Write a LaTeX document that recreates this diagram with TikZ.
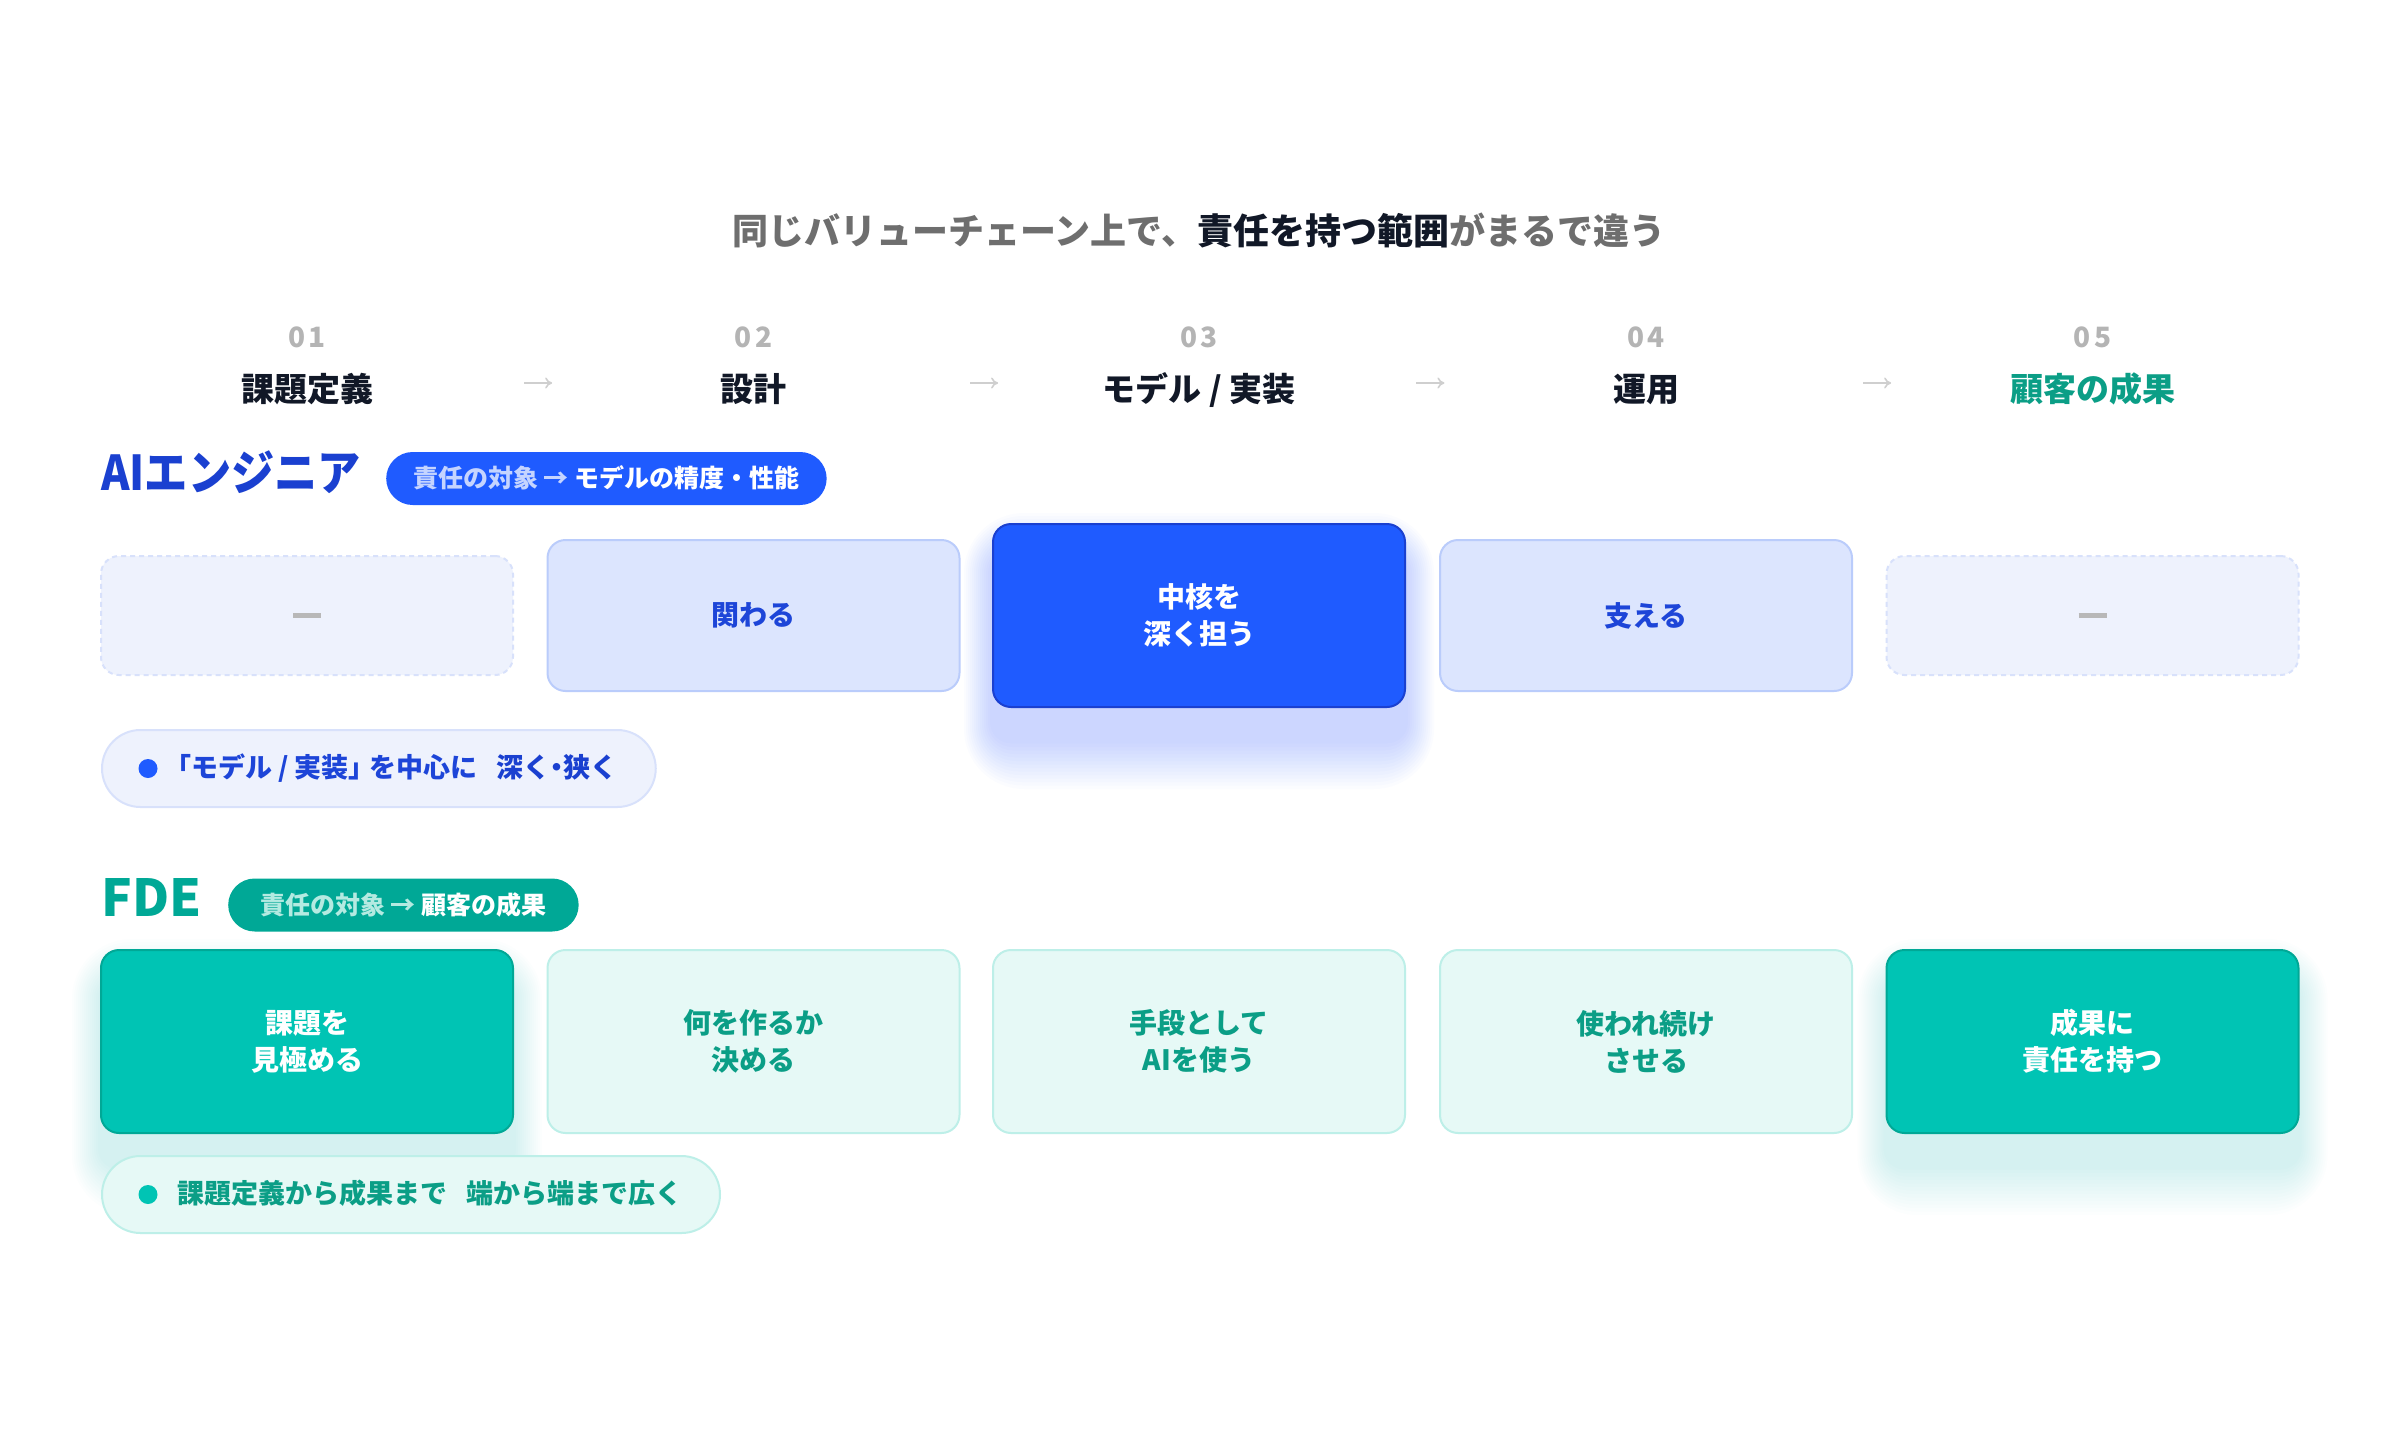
\documentclass[tikz,border=0pt]{standalone}
\usepackage{fontspec}
\setmainfont{Noto Sans CJK JP}
\usetikzlibrary{positioning,calc,arrows.meta,backgrounds}

\definecolor{titlegray}{HTML}{6E6E6E}
\definecolor{ink}{HTML}{111827}
\definecolor{numgray}{HTML}{B4B4B4}
\definecolor{arrowgray}{HTML}{CFCFCF}
\definecolor{dashgray}{HTML}{B8B8B8}
\definecolor{aiblue}{HTML}{1F5BFF}
\definecolor{aidark}{HTML}{1A40D0}
\definecolor{aitext}{HTML}{1D45D8}
\definecolor{aipale}{HTML}{EEF2FD}
\definecolor{aipaleline}{HTML}{D8E1FB}
\definecolor{ailight}{HTML}{DCE5FE}
\definecolor{ailightline}{HTML}{BACCFB}
\definecolor{aibadgesoft}{HTML}{C5D4FF}
\definecolor{fdeteal}{HTML}{00C4B4}
\definecolor{fdedark}{HTML}{00A896}
\definecolor{fdetext}{HTML}{0B9E86}
\definecolor{fdelight}{HTML}{E6F9F6}
\definecolor{fdelightline}{HTML}{BDEFE8}
\definecolor{fdebadgesoft}{HTML}{B4EAE1}

\tikzset{
  headline/.style={font=\bfseries\fontsize{36pt}{40pt}\selectfont, text=titlegray},
  stepnum/.style={text=numgray, inner sep=0pt, text height=21pt, text depth=0pt, font=\bfseries\fontsize{28pt}{30pt}\selectfont},
  stepname/.style={text=ink, inner sep=0pt, text height=29pt, text depth=4pt, font=\bfseries\fontsize{33pt}{38pt}\selectfont},
  flowarrow/.style={draw=arrowgray, line width=1.6pt, -{To[length=7pt, width=11pt]}},
  rolelabel/.style={anchor=west, inner sep=0pt, text height=35pt, text depth=0pt, font=\bfseries\fontsize{48pt}{52pt}\selectfont},
  rolebadge/.style={anchor=west, rounded corners=26.5pt, minimum height=53pt, inner xsep=27pt, inner ysep=0pt, text height=21pt, text depth=3pt, text=white, font=\bfseries\fontsize{25pt}{28pt}\selectfont},
  cell/.style={minimum width=412pt, rounded corners=18pt, line width=2pt, inner sep=0pt, align=center, font=\bfseries\fontsize{28pt}{37pt}\selectfont},
  aiempty/.style={cell, minimum height=119pt, fill=aipale, draw=aipaleline, dash pattern=on 5pt off 4pt, text=dashgray},
  aisoft/.style={cell, minimum height=151pt, fill=ailight, draw=ailightline, text=aitext},
  aistrong/.style={cell, minimum height=183pt, fill=aiblue, draw=aidark, text=white},
  fdesoft/.style={cell, minimum height=183pt, fill=fdelight, draw=fdelightline, text=fdetext},
  fdestrong/.style={cell, minimum height=183pt, fill=fdeteal, draw=fdedark, text=white},
  notepill/.style={anchor=west, rounded corners=38.5pt, minimum height=77pt, line width=2pt, inner xsep=38pt, inner ysep=0pt, text height=21pt, text depth=3pt, font=\bfseries\fontsize{27pt}{30pt}\selectfont},
}
\newcommand{\emptymark}{\rule{28pt}{5pt}}

\begin{document}
\begin{tikzpicture}[x=1pt,y=-1pt]
\useasboundingbox (0,0) rectangle (2400,1440);

% title
\node[headline] (title) at (1199,230) {同じバリューチェーン上で、\textcolor{ink}{責任を持つ範囲}がまるで違う};

% value chain
\node[stepnum] (n1) at (307,337) {0\kern3pt1};
\node[stepnum] (n2) at (753.5,337) {0\kern3pt2};
\node[stepnum] (n3) at (1199,337) {0\kern3pt3};
\node[stepnum] (n4) at (1646,337) {0\kern3pt4};
\node[stepnum] (n5) at (2092.5,337) {0\kern3pt5};

\node[stepname] (s1) at (307,389) {課題定義};
\node[stepname] (s2) at (753.5,389) {設計};
\node[stepname] (s3) at (1199,389) {モデル / 実装};
\node[stepname] (s4) at (1646,389) {運用};
\node[stepname, text=fdetext] (s5) at (2092.5,389) {顧客の成果};

\foreach \a/\b in {s1/s2, s2/s3, s3/s4, s4/s5}
  \draw[flowarrow] ($(\a)!0.486!(\b)+(0,-6)$) -- ($(\a)!0.549!(\b)+(0,-6)$);

% AI engineer
\node[rolelabel, text=aidark] (ailabel) at (101,472.5) {\addfontfeatures{FakeStretch=0.9}AIエンジニア};
\node[rolebadge, fill=aiblue] (aibadge) at (386,478.5) {\textcolor{aibadgesoft}{責任の対象 → }モデルの精度・性能};

\node[aiempty] (ai1) at (307,615.5) {\emptymark};
\node[aisoft] (ai2) at (753.5,615.5) {関わる};
\node[aistrong] (ai3) at (1199,615.5) {中核を\\深く担う};
\node[aisoft] (ai4) at (1646,615.5) {支える};
\node[aiempty] (ai5) at (2092.5,615.5) {\emptymark};

\node[notepill, fill=aipale, draw=aipaleline] (ainote) at (101,768.5)
  {\hspace*{24pt}\textcolor{aitext}{「モデル / 実装」\kern-6ptを中心に}\hspace{19pt}\textcolor{aidark}{深く\kern-7pt・\kern-7pt狭く}};
\fill[aiblue] ([xshift=47pt]ainote.west) circle (9.5);

% FDE
\node[rolelabel, text=fdedark, font=\bfseries\fontsize{51pt}{54pt}\selectfont] (fdelabel) at (101,898.5) {FDE};
\node[rolebadge, fill=fdedark, inner xsep=32pt] (fdebadge) at (228,905) {\textcolor{fdebadgesoft}{責任の対象 → }顧客の成果};

\node[fdestrong] (fde1) at (307,1041.5) {課題を\\見極める};
\node[fdesoft] (fde2) at (753.5,1041.5) {何を作るか\\決める};
\node[fdesoft] (fde3) at (1199,1041.5) {手段として\\AIを使う};
\node[fdesoft] (fde4) at (1646,1041.5) {使われ続け\\させる};
\node[fdestrong] (fde5) at (2092.5,1041.5) {成果に\\責任を持つ};

\node[notepill, fill=fdelight, draw=fdelightline] (fdenote) at (101,1194.5)
  {\hspace*{37pt}\textcolor{fdetext}{課題定義から成果まで}\hspace{19pt}\textcolor{fdetext}{端から端まで広く}};
\fill[fdeteal] ([xshift=47pt]fdenote.west) circle (9.5);

% glow under the strong boxes
\begin{scope}[on background layer]
\fill[white] (0,0) rectangle (2400,1440);
\foreach \b/\col/\op in {ai3/aiblue/0.016, fde1/fdeteal/0.01, fde5/fdeteal/0.01}
  \foreach \k in {1,...,14}
    \fill[\col, opacity=\op, rounded corners={(18+3*\k)*1pt}]
      ($(\b.north west)+(-2*\k,32-3*\k)$) rectangle ($(\b.south east)+(2*\k,32+3.5*\k)$);
\end{scope}
\end{tikzpicture}
\end{document}
